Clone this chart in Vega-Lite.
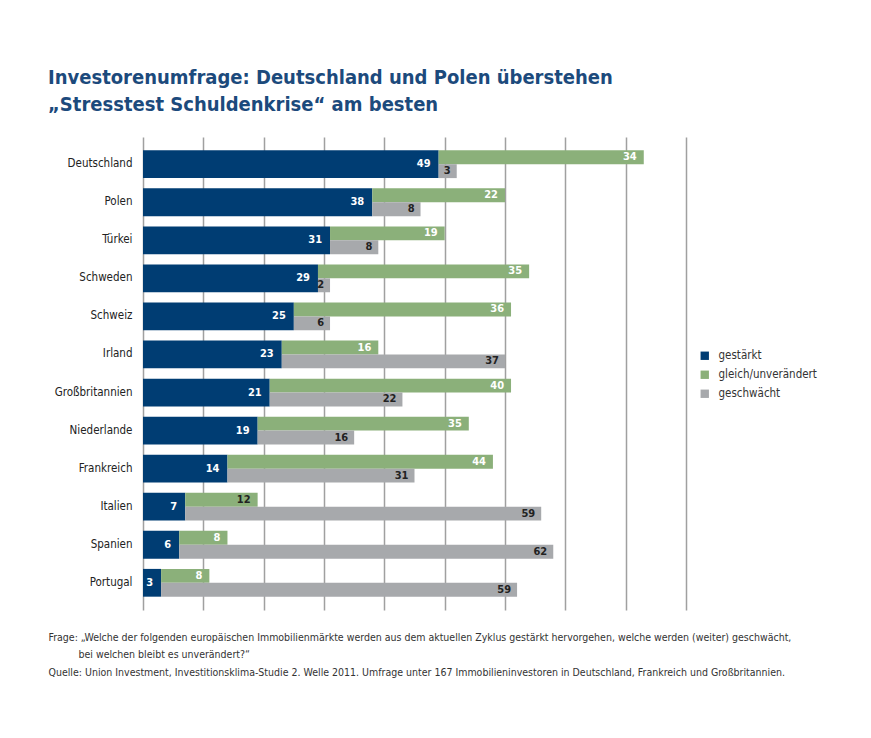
{
  "$schema": "https://vega.github.io/schema/vega-lite/v6.json",
  "width": 543,
  "height": 473,
  "autosize": {"type": "none"},
  "padding": {"left": 143, "top": 137, "right": 185, "bottom": 128},
  "background": "white",
  "title": {
    "text": ["Investorenumfrage: Deutschland und Polen überstehen", "„Stresstest Schuldenkrise“ am besten"],
    "anchor": "start",
    "frame": "group",
    "dx": -95,
    "offset": 22,
    "font": "'DejaVu Sans Condensed', Roboto, sans-serif",
    "fontSize": 20,
    "fontWeight": "bold",
    "lineHeight": 27,
    "color": "#1c4a7c"
  },
  "config": {
    "view": {"stroke": null},
    "font": "'DejaVu Sans Condensed', Roboto, sans-serif",
    "axisX": {
      "grid": true,
      "gridColor": "#a0a0a0",
      "gridWidth": 1.5,
      "labels": false,
      "ticks": false,
      "domain": false
    },
    "axisY": {
      "grid": false,
      "ticks": false,
      "domain": false,
      "title": null,
      "labelFontSize": 11.5,
      "labelColor": "#222222",
      "labelPadding": 11
    }
  },
  "data": {
    "values": [
      {"land": "Deutschland", "kategorie": "gestärkt", "wert": 49},
      {"land": "Deutschland", "kategorie": "gleich/unverändert", "wert": 34},
      {"land": "Deutschland", "kategorie": "geschwächt", "wert": 3},
      {"land": "Polen", "kategorie": "gestärkt", "wert": 38},
      {"land": "Polen", "kategorie": "gleich/unverändert", "wert": 22},
      {"land": "Polen", "kategorie": "geschwächt", "wert": 8},
      {"land": "Türkei", "kategorie": "gestärkt", "wert": 31},
      {"land": "Türkei", "kategorie": "gleich/unverändert", "wert": 19},
      {"land": "Türkei", "kategorie": "geschwächt", "wert": 8},
      {"land": "Schweden", "kategorie": "gestärkt", "wert": 29},
      {"land": "Schweden", "kategorie": "gleich/unverändert", "wert": 35},
      {"land": "Schweden", "kategorie": "geschwächt", "wert": 2},
      {"land": "Schweiz", "kategorie": "gestärkt", "wert": 25},
      {"land": "Schweiz", "kategorie": "gleich/unverändert", "wert": 36},
      {"land": "Schweiz", "kategorie": "geschwächt", "wert": 6},
      {"land": "Irland", "kategorie": "gestärkt", "wert": 23},
      {"land": "Irland", "kategorie": "gleich/unverändert", "wert": 16},
      {"land": "Irland", "kategorie": "geschwächt", "wert": 37},
      {"land": "Großbritannien", "kategorie": "gestärkt", "wert": 21},
      {"land": "Großbritannien", "kategorie": "gleich/unverändert", "wert": 40},
      {"land": "Großbritannien", "kategorie": "geschwächt", "wert": 22},
      {"land": "Niederlande", "kategorie": "gestärkt", "wert": 19},
      {"land": "Niederlande", "kategorie": "gleich/unverändert", "wert": 35},
      {"land": "Niederlande", "kategorie": "geschwächt", "wert": 16},
      {"land": "Frankreich", "kategorie": "gestärkt", "wert": 14},
      {"land": "Frankreich", "kategorie": "gleich/unverändert", "wert": 44},
      {"land": "Frankreich", "kategorie": "geschwächt", "wert": 31},
      {"land": "Italien", "kategorie": "gestärkt", "wert": 7},
      {"land": "Italien", "kategorie": "gleich/unverändert", "wert": 12},
      {"land": "Italien", "kategorie": "geschwächt", "wert": 59},
      {"land": "Spanien", "kategorie": "gestärkt", "wert": 6},
      {"land": "Spanien", "kategorie": "gleich/unverändert", "wert": 8},
      {"land": "Spanien", "kategorie": "geschwächt", "wert": 62},
      {"land": "Portugal", "kategorie": "gestärkt", "wert": 3},
      {"land": "Portugal", "kategorie": "gleich/unverändert", "wert": 8},
      {"land": "Portugal", "kategorie": "geschwächt", "wert": 59}
    ]
  },
  "encoding": {
    "y": {
      "field": "land",
      "type": "nominal",
      "sort": ["Deutschland", "Polen", "Türkei", "Schweden", "Schweiz", "Irland", "Großbritannien", "Niederlande", "Frankreich", "Italien", "Spanien", "Portugal"],
      "scale": {"paddingInner": 0.27, "paddingOuter": 0.35},
      "axis": {"title": null}
    }
  },
  "layer": [
    {
      "transform": [{"filter": "datum.kategorie === 'gestärkt'"}],
      "mark": {"type": "bar", "cornerRadius": 0},
      "encoding": {
        "x": {
          "field": "wert",
          "type": "quantitative",
          "scale": {"domain": [0, 90], "nice": false},
          "axis": {
            "values": [0, 10, 20, 30, 40, 50, 60, 70, 80, 90],
            "title": [
              "Frage: „Welche der folgenden europäischen Immobilienmärkte werden aus dem aktuellen Zyklus gestärkt hervorgehen, welche werden (weiter) geschwächt,",
              "\u200b\u00a0\u00a0\u00a0\u00a0\u00a0\u00a0\u00a0\u00a0\u00a0\u00a0bei welchen bleibt es unverändert?“",
              "Quelle: Union Investment, Investitionsklima-Studie 2. Welle 2011. Umfrage unter 167 Immobilieninvestoren in Deutschland, Frankreich und Großbritannien."
            ],
            "titleAnchor": "start",
            "titleAlign": "left",
            "titleX": -95,
            "titleY": 22,
            "titleBaseline": "top",
            "titleFontSize": 10.5,
            "titleFontWeight": "normal",
            "titleLineHeight": 17.5,
            "titleColor": "#333333"
          }
        },
        "color": {
          "field": "kategorie",
          "type": "nominal",
          "scale": {
            "domain": ["gestärkt", "gleich/unverändert", "geschwächt"],
            "range": ["#003d73", "#8bb07a", "#a7a9ac"]
          },
          "legend": {
            "orient": "none",
            "legendX": 556,
            "legendY": 213,
            "title": null,
            "symbolType": "square",
            "symbolSize": 70,
            "symbolStrokeWidth": 0,
            "labelFontSize": 11.5,
            "labelColor": "#333333",
            "rowPadding": 6,
            "labelOffset": 8
          }
        }
      }
    },
    {
      "transform": [{"filter": "datum.kategorie === 'gestärkt'"}],
      "mark": {"type": "text", "align": "right", "dx": -8, "color": "white", "fontWeight": "bold", "fontSize": 11},
      "encoding": {
        "x": {"field": "wert", "type": "quantitative"},
        "text": {"field": "wert", "type": "quantitative"}
      }
    },
    {
      "transform": [
        {"filter": "datum.kategorie !== 'geschwächt'"},
        {"stack": "wert", "groupby": ["land"], "sort": [{"field": "kategorie", "order": "ascending"}], "as": ["x0", "x1"]},
        {"filter": "datum.kategorie === 'gleich/unverändert'"}
      ],
      "mark": {"type": "bar"},
      "encoding": {
        "x": {"field": "x0", "type": "quantitative"},
        "x2": {"field": "x1"},
        "yOffset": {
          "field": "kategorie",
          "type": "nominal",
          "scale": {"domain": ["gleich/unverändert", "geschwächt"], "paddingInner": 0, "paddingOuter": 0}
        },
        "color": {"field": "kategorie", "type": "nominal"}
      }
    },
    {
      "transform": [
        {"filter": "datum.kategorie !== 'geschwächt'"},
        {"stack": "wert", "groupby": ["land"], "sort": [{"field": "kategorie", "order": "ascending"}], "as": ["x0", "x1"]},
        {"filter": "datum.kategorie === 'gleich/unverändert'"}
      ],
      "mark": {"type": "text", "align": "right", "dx": -7, "fontWeight": "bold", "fontSize": 11},
      "encoding": {
        "x": {"field": "x1", "type": "quantitative"},
        "yOffset": {"field": "kategorie", "type": "nominal"},
        "text": {"field": "wert", "type": "quantitative"},
        "color": {
          "condition": {"test": "datum.land === 'Italien'", "value": "#222222"},
          "value": "white"
        }
      }
    },
    {
      "transform": [
        {"filter": "datum.kategorie !== 'gleich/unverändert'"},
        {"stack": "wert", "groupby": ["land"], "sort": [{"field": "kategorie", "order": "descending"}], "as": ["x0", "x1"]},
        {"filter": "datum.kategorie === 'geschwächt'"}
      ],
      "mark": {"type": "bar"},
      "encoding": {
        "x": {"field": "x0", "type": "quantitative"},
        "x2": {"field": "x1"},
        "yOffset": {"field": "kategorie", "type": "nominal"},
        "color": {"field": "kategorie", "type": "nominal"}
      }
    },
    {
      "transform": [
        {"filter": "datum.kategorie !== 'gleich/unverändert'"},
        {"stack": "wert", "groupby": ["land"], "sort": [{"field": "kategorie", "order": "descending"}], "as": ["x0", "x1"]},
        {"filter": "datum.kategorie === 'geschwächt'"}
      ],
      "mark": {"type": "text", "align": "right", "dx": -6, "fontWeight": "bold", "fontSize": 11, "color": "#222222"},
      "encoding": {
        "x": {"field": "x1", "type": "quantitative"},
        "yOffset": {"field": "kategorie", "type": "nominal"},
        "text": {"field": "wert", "type": "quantitative"}
      }
    }
  ]
}
